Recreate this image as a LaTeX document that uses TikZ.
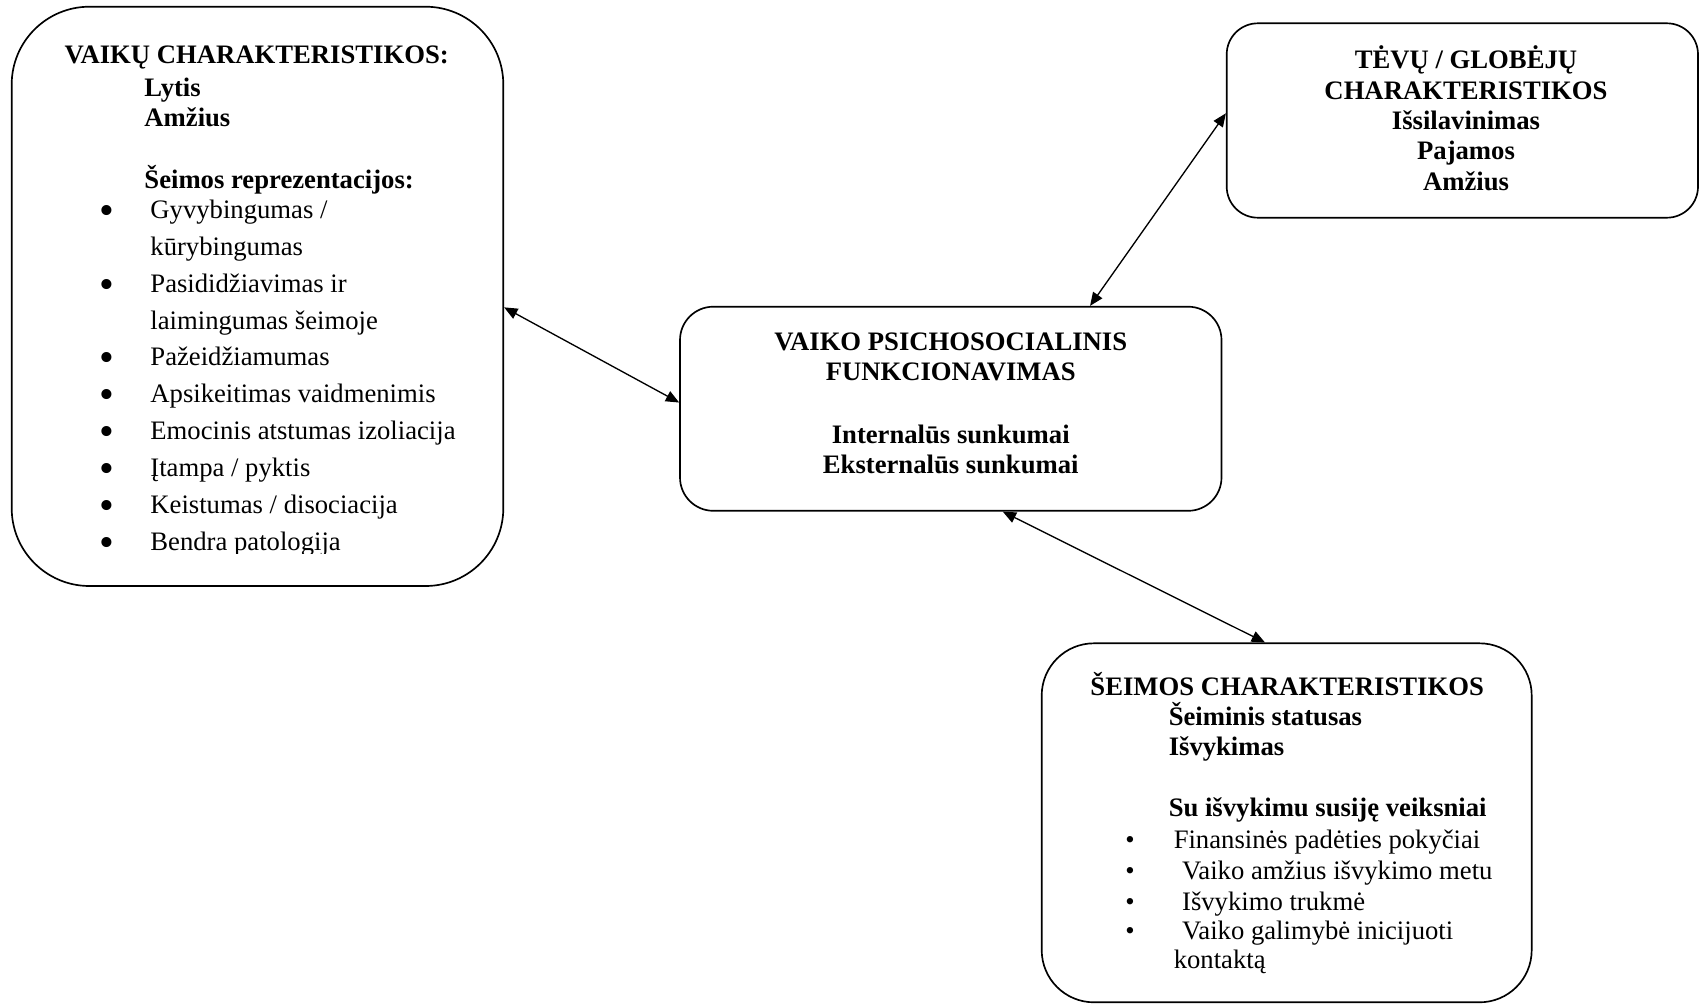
\documentclass[tikz,border=0pt]{standalone}
\usepackage{fontspec}
\setmainfont{Liberation Serif}
\usetikzlibrary{arrows.meta, calc, fit}

\begin{document}
\begin{tikzpicture}[
		x=0.45pt, y=-0.45pt,
		box/.style={draw, rounded corners=#1, line width=0.75pt, inner sep=0pt},
		txt/.style={anchor=base west, inner sep=0pt, font=\fontsize{12}{13.8}\selectfont},
		hdr/.style={anchor=base west, inner sep=0pt, font=\fontsize{12}{13.8}\selectfont\bfseries},
		ctrtxt/.style={anchor=base, inner sep=0pt, font=\fontsize{12}{13.8}\selectfont\bfseries},
		bigdot/.style={anchor=base, inner sep=0pt, font=\fontsize{19}{19}\selectfont},
		smalldot/.style={anchor=base, inner sep=0pt, font=\fontsize{12}{13.8}\selectfont},
		conn/.style={{Triangle[length=6pt,width=5pt]}-{Triangle[length=6pt,width=5pt]}, line width=0.6pt}
	]
	\useasboundingbox (0,0) rectangle (1699,1004);

	% vaiku charakteristikos
	\node[box=35pt, fit={(11.7,6.7) (503.3,586)}] (vaiku) {};
	\node[hdr] (vaikuh) at (64.3,63.3) {VAIKŲ CHARAKTERISTIKOS:};
	\node[hdr] (lytis) at (144,96.5) {Lytis};
	\node[hdr] (amzius) at (144,126) {Amžius};
	\node[hdr] (repr) at (144,188.3) {Šeimos reprezentacijos:};
	\begin{scope}
		\clip (0,0) rectangle (1699,553);
		\foreach \yy/\lbl [count=\i] in {218.3/{Gyvybingumas /}, 255.2/kūrybingumas, 292.1/Pasididžiavimas ir, 329/laimingumas šeimoje, 365.9/Pažeidžiamumas, 402.8/Apsikeitimas vaidmenimis, 439.7/Emocinis atstumas izoliacija, 476.6/{Įtampa / pyktis}, 513.5/{Keistumas / disociacija}, 550.4/Bendra patologija}
			\node[txt] (repr\i) at (150,\yy) {\lbl};
		\foreach \yy [count=\i] in {218.3, 292.1, 365.9, 402.8, 439.7, 476.6, 513.5, 550.4}
			\node[bigdot] (rdot\i) at (106.7,\yy+6) {\textbullet};
	\end{scope}

	% vaiko funkcionavimas
	\node[box=15pt, fit={(680,306.7) (1221.5,510.8)}] (vaiko) {};
	\node[ctrtxt] (vaiko1) at (950.75,350.7) {VAIKO PSICHOSOCIALINIS};
	\node[ctrtxt] (vaiko2) at (950.75,380.7) {FUNKCIONAVIMAS};
	\node[ctrtxt] (vaiko3) at (950.75,443.3) {Internalūs sunkumai};
	\node[ctrtxt] (vaiko4) at (950.75,473.3) {Eksternalūs sunkumai};

	% tevu / globeju charakteristikos
	\node[box=14pt, fit={(1226.7,23.3) (1698,217.7)}] (tevu) {};
	\node[ctrtxt] (tevu1) at (1466,68.3) {TĖVŲ / GLOBĖJŲ};
	\node[ctrtxt] (tevu2) at (1466,99.3) {CHARAKTERISTIKOS};
	\node[ctrtxt] (tevu3) at (1466,129.3) {Išsilavinimas};
	\node[ctrtxt] (tevu4) at (1466,159.3) {Pajamos};
	\node[ctrtxt] (tevu5) at (1466,190) {Amžius};

	% seimos charakteristikos
	\node[box=23.5pt, fit={(1041.7,643.3) (1531.7,1002.3)}] (seimos) {};
	\node[hdr] (seimosh) at (1090,695) {ŠEIMOS CHARAKTERISTIKOS};
	\node[hdr] (statusas) at (1168.3,725) {Šeiminis statusas};
	\node[hdr] (isvyk) at (1168.3,755) {Išvykimas};
	\node[hdr] (veiks) at (1168.3,816) {Su išvykimu susiję veiksniai};
	\node[txt] (veiks1) at (1173.3,848.7) {Finansinės padėties pokyčiai};
	\node[txt] (veiks2) at (1181.7,879.3) {Vaiko amžius išvykimo metu};
	\node[txt] (veiks3) at (1181.7,910) {Išvykimo trukmė};
	\node[txt] (veiks4) at (1181.7,939.5) {Vaiko galimybė inicijuoti};
	\node[txt] (veiks5) at (1173.3,968.3) {kontaktą};
	\foreach \yy [count=\i] in {848.7, 879.3, 910, 939.5}
		\node[smalldot] (sdot\i) at (1130,\yy) {\textbullet};

	% rodykles
	\draw[conn] ($(vaiku.east)+(0,11)$) -- ($(vaiko.west)+(0,-6.2)$);
	\draw[conn] ($(vaiko.north)+(139.3,0)$) -- ($(tevu.west)+(0,-7.2)$);
	\draw[conn] ($(vaiko.south)+(52,0)$) -- ($(seimos.north)+(-21.7,0)$);
\end{tikzpicture}
\end{document}
